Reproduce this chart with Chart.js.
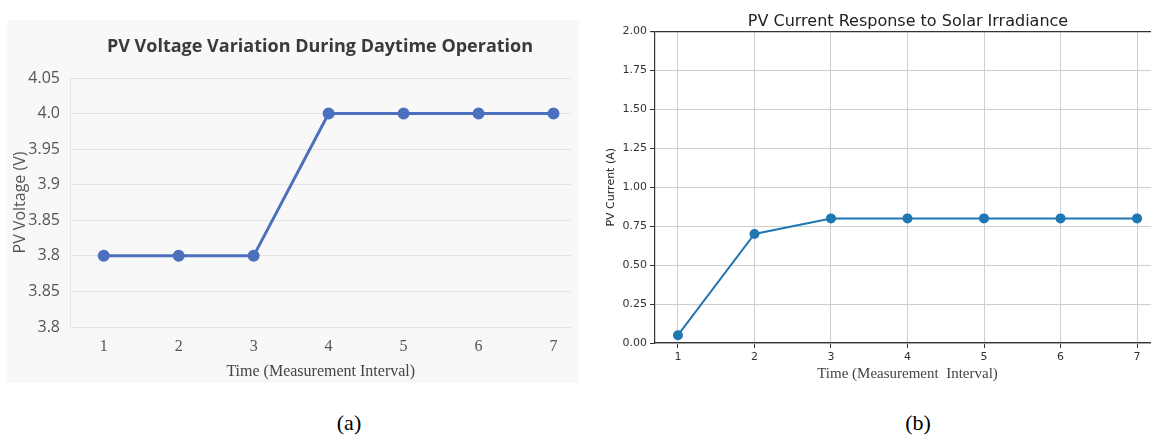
<!DOCTYPE html>
<html>
<head>
<meta charset="utf-8">
<script src="https://cdn.jsdelivr.net/npm/chart.js@4.4.1/dist/chart.umd.min.js"></script>
<style>
    html, body { margin: 0; padding: 0; background: #fff; overflow: hidden; }
    body { width: 1151px; height: 439px; position: relative; }
    #panelA { position: absolute; left: 7px; top: 20px; width: 572px; height: 363px; background: #f8f8f8; }
    #panelB { position: absolute; left: 590px; top: 0px; width: 576px; height: 385px; }
    .title { position: absolute; transform: translate(-50%, -50%); white-space: nowrap; }
    #titleA { left: 320px; top: 45px; font-family: "Open Sans", sans-serif; font-size: 18px; font-weight: bold; color: #3a3a3a; }
    #titleB { left: 908px; top: 20px; font-family: "DejaVu Sans", sans-serif; font-size: 16px; color: #222; }
    .caption { position: absolute; top: 410px; font-family: "Liberation Serif", serif; font-size: 22px; color: #000; transform: translateX(-50%); }
</style>
</head>
<body>
<div id="panelA"><canvas id="voltageChart" width="572" height="363"></canvas></div>
<div id="panelB"><canvas id="currentChart" width="576" height="385"></canvas></div>
<div class="title" id="titleA">PV Voltage Variation During Daytime Operation</div>
<div class="title" id="titleB">PV Current Response to Solar Irradiance</div>
<div class="caption" style="left:349px">(a)</div>
<div class="caption" style="left:918px">(b)</div>

<script>
// Dane pomiarowe
const intervals = [1, 2, 3, 4, 5, 6, 7];
const voltage = [3.8, 3.8, 3.8, 4.0, 4.0, 4.0, 4.0];
const current = [0.05, 0.70, 0.80, 0.80, 0.80, 0.80, 0.80];

// Oś napięcia: pozycje i etykiety tak jak na oryginale
const voltageTickValues = [3.70, 3.75, 3.80, 3.85, 3.90, 3.95, 4.00, 4.05];
const voltageTickLabels = ["3.8", "3.85", "3.8", "3.85", "3.9", "3.95", "4.0", "4.05"];
const currentTickValues = [0, 0.25, 0.5, 0.75, 1.0, 1.25, 1.5, 1.75, 2.0];

document.addEventListener("DOMContentLoaded", () => {
    createVoltageChart();
    createCurrentChart();
});

function createVoltageChart() {
    const ctx = document.getElementById("voltageChart");
    new Chart(ctx, {
        type: "line",
        data: {
            datasets: [{
                data: intervals.map((t, i) => ({ x: t, y: voltage[i] })),
                borderColor: "#4a70be",
                backgroundColor: "#4a70be",
                borderWidth: 3,
                pointRadius: 4.5,
                tension: 0
            }]
        },
        options: {
            responsive: false,
            animation: false,
            layout: { padding: { left: 0, right: 6, top: 58, bottom: 0 } },
            plugins: {
                legend: { display: false },
                tooltip: { enabled: false },
                title: { display: false }
            },
            scales: {
                x: {
                    type: "linear",
                    min: 0.55,
                    max: 7.24,
                    afterBuildTicks: scale => { scale.ticks = intervals.map(v => ({ value: v })); },
                    afterFit: scale => { scale.height = 56; },
                    grid: { display: false, drawTicks: false },
                    border: { display: false },
                    ticks: {
                        padding: 10,
                        color: "#555",
                        font: { family: "'Liberation Serif', serif", size: 16 }
                    },
                    title: {
                        display: true,
                        text: "Time (Measurement Interval)",
                        color: "#444",
                        font: { family: "'Liberation Serif', serif", size: 16 },
                        padding: { top: 0, bottom: 1.4 }
                    }
                },
                y: {
                    min: 3.70,
                    max: 4.05,
                    afterBuildTicks: scale => { scale.ticks = voltageTickValues.map(v => ({ value: v })); },
                    afterFit: scale => { scale.width = 63; },
                    grid: { color: "#e4e4e4", drawTicks: false },
                    border: { display: true, color: "#e4e4e4" },
                    ticks: {
                        padding: 10,
                        color: "#555",
                        font: { family: "'Open Sans', sans-serif", size: 16 },
                        callback: (value, index) => voltageTickLabels[index]
                    },
                    title: {
                        display: true,
                        text: "PV Voltage (V)",
                        color: "#555",
                        font: { family: "'Open Sans', sans-serif", size: 16 },
                        padding: { top: 3.4, bottom: 0 }
                    }
                }
            }
        }
    });
}

function createCurrentChart() {
    const ctx = document.getElementById("currentChart");
    new Chart(ctx, {
        type: "line",
        data: {
            datasets: [{
                data: intervals.map((t, i) => ({ x: t, y: current[i] })),
                borderColor: "#1f77b4",
                backgroundColor: "#1f77b4",
                borderWidth: 2,
                pointRadius: 4,
                tension: 0
            }]
        },
        options: {
            responsive: false,
            animation: false,
            layout: { padding: { left: 0, right: 2.5, top: 31.5, bottom: 0 } },
            plugins: {
                legend: { display: false },
                tooltip: { enabled: false },
                title: { display: false }
            },
            scales: {
                x: {
                    type: "linear",
                    min: 0.7,
                    max: 7.3,
                    afterBuildTicks: scale => { scale.ticks = intervals.map(v => ({ value: v })); },
                    afterFit: scale => { scale.height = 42; },
                    grid: { color: "#cfcfcf", tickColor: "#333", tickLength: 5 },
                    border: { display: true, color: "#333", width: 1.2 },
                    ticks: {
                        padding: 3,
                        color: "#333",
                        font: { family: "'DejaVu Sans', sans-serif", size: 11 }
                    },
                    title: {
                        display: true,
                        text: "Time (Measurement  Interval)",
                        color: "#444",
                        font: { family: "'Liberation Serif', serif", size: 15 },
                        padding: { top: 0, bottom: 2 }
                    }
                },
                y: {
                    min: 0,
                    max: 2,
                    afterBuildTicks: scale => { scale.ticks = currentTickValues.map(v => ({ value: v })); },
                    afterFit: scale => { scale.width = 65; },
                    grid: {
                        color: c => (c.tick && c.tick.value === 2 ? "#333" : "#cfcfcf"),
                        lineWidth: c => (c.tick && c.tick.value === 2 ? 1.2 : 1),
                        tickColor: "#333",
                        tickLength: 5
                    },
                    border: { display: true, color: "#333", width: 1.2 },
                    ticks: {
                        padding: 3,
                        color: "#333",
                        font: { family: "'DejaVu Sans', sans-serif", size: 11 },
                        callback: value => value.toFixed(2)
                    },
                    title: {
                        display: true,
                        text: "PV Current (A)",
                        color: "#222",
                        font: { family: "'DejaVu Sans', sans-serif", size: 11 },
                        padding: { top: 14.4, bottom: 0 }
                    }
                }
            }
        }
    });
}
</script>
</body>
</html>
